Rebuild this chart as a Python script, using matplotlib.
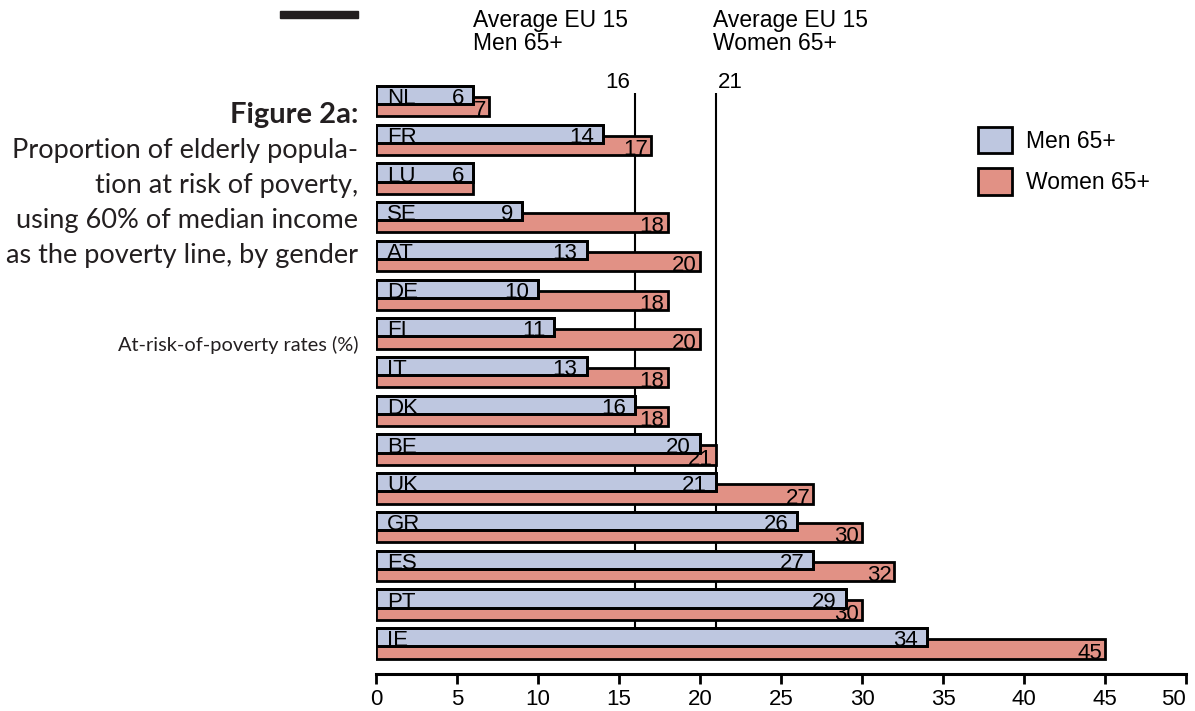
import matplotlib
matplotlib.use('Agg')
import matplotlib.pyplot as plt
from matplotlib.patches import Patch, Rectangle
import numpy as np

# at-risk-of-poverty rates (%), people aged 65+, EU 15 countries
countries = ['NL', 'FR', 'LU', 'SE', 'AT', 'DE', 'FI', 'IT', 'DK', 'BE', 'UK', 'GR', 'ES', 'PT', 'IE']
men = [6, 14, 6, 9, 13, 10, 11, 13, 16, 20, 21, 26, 27, 29, 34]
women = [7, 17, 6, 18, 20, 18, 20, 18, 18, 21, 27, 30, 32, 30, 45]
avg_men = 16
avg_women = 21
x_ticks = [0, 5, 10, 15, 20, 25, 30, 35, 40, 45, 50]

men_col = '#BEC7E0'
women_col = '#E19185'
bar_font = 'Liberation Sans'
text_font = 'Lato'

W, H = 1195, 711
fig = plt.figure(figsize = (W / 100, H / 100), dpi = 100)
ax = fig.add_axes([376 / W, 1 - 673.5 / H, 810 / W, 613.5 / H])

y = np.arange(len(countries))
off = 0.15
h_men = 0.47
h_women = 0.5
lw = 2.0
fs = 16

# average lines sit behind the bars
ax.vlines([avg_men, avg_women], -0.2, 14.39, color = 'black', lw = 1.5, zorder = 1)

ax.barh(y + off, women, height = h_women, color = women_col, edgecolor = 'black', lw = lw, zorder = 2)
ax.barh(y - off, men, height = h_men, color = men_col, edgecolor = 'black', lw = lw, zorder = 3)

for i in range(len(countries)):
    men_bottom = y[i] - off + h_men / 2
    women_bottom = y[i] + off + h_women / 2
    ax.annotate(countries[i], (0, men_bottom), xytext = (11, 0), textcoords = 'offset pixels',
                ha = 'left', va = 'baseline', fontsize = fs, family = bar_font, zorder = 4)
    ax.annotate(str(men[i]), (men[i], men_bottom), xytext = (-9, 0), textcoords = 'offset pixels',
                ha = 'right', va = 'baseline', fontsize = fs, family = bar_font, zorder = 4)
    # women values go under the men bars; an equal value is covered by the men label
    if women[i] > men[i]:
        ax.annotate(str(women[i]), (women[i], women_bottom), xytext = (-3, 0), textcoords = 'offset pixels',
                    ha = 'right', va = 'baseline', fontsize = fs, family = bar_font, zorder = 2.5)

# men outlines again on top so the labels tuck under the bottom edge
ax.barh(y - off, men, height = h_men, fill = False, edgecolor = 'black', lw = lw, zorder = 5)

ax.set_xlim(0, 50)
ax.set_ylim(14.787, -1.052)
ax.set_xticks(x_ticks)
ax.set_yticks([])
for s in ['top', 'left', 'right']:
    ax.spines[s].set_visible(False)
ax.spines['bottom'].set_linewidth(2.2)
ax.tick_params(axis = 'x', length = 7.5, width = 2, pad = 4, labelsize = fs)
for lab in ax.get_xticklabels():
    lab.set_family(bar_font)
ax.get_xticklabels()[-1].set_horizontalalignment('right')

# average labels above the lines
ax.annotate(str(avg_men), (avg_men, -0.2), xytext = (-5, 5), textcoords = 'offset pixels',
            ha = 'right', va = 'baseline', fontsize = fs, family = bar_font)
ax.annotate(str(avg_women), (avg_women, -0.2), xytext = (2, 5), textcoords = 'offset pixels',
            ha = 'left', va = 'baseline', fontsize = fs, family = bar_font)
fig.text(473 / W, 1 - 27 / H, 'Average EU 15', fontsize = 16.5, family = bar_font, va = 'baseline')
fig.text(473 / W, 1 - 50 / H, 'Men 65+', fontsize = 16.5, family = bar_font, va = 'baseline')
fig.text(713 / W, 1 - 27 / H, 'Average EU 15', fontsize = 16.5, family = bar_font, va = 'baseline')
fig.text(713 / W, 1 - 50 / H, 'Women 65+', fontsize = 16.5, family = bar_font, va = 'baseline')

handles = [Patch(facecolor = men_col, edgecolor = 'black', lw = lw, label = 'Men 65+'),
           Patch(facecolor = women_col, edgecolor = 'black', lw = lw, label = 'Women 65+')]
ax.legend(handles = handles, loc = 'upper left', bbox_to_anchor = (978 / W, 1 - 127 / H),
          bbox_transform = fig.transFigure, frameon = False, borderpad = 0, borderaxespad = 0,
          handlelength = 1.5, handleheight = 1.4, labelspacing = 0.65, handletextpad = 0.6,
          prop = {'family': bar_font, 'size': 16.5})

# title block on the left
fig.text(358 / W, 1 - 123 / H, 'Figure 2a:', ha = 'right', va = 'baseline',
         fontsize = 21, fontweight = 'bold', family = text_font, color = '#231f20')
title_lines = ['Proportion of elderly popula-', 'tion at risk of poverty,',
               'using 60% of median income', 'as the poverty line, by gender']
for k, line in enumerate(title_lines):
    fig.text(358 / W, 1 - (158 + 35 * k) / H, line, ha = 'right', va = 'baseline',
             fontsize = 19.5, family = text_font, color = '#231f20')
fig.text(358 / W, 1 - 351 / H, 'At-risk-of-poverty rates (%)', ha = 'right', va = 'baseline',
         fontsize = 14.4, family = text_font, color = '#231f20')

fig.add_artist(Rectangle((280 / W, 1 - 18 / H), 78 / W, 7 / H, transform = fig.transFigure,
                         color = '#231f20'))

fig.savefig('out.png', dpi = 100)
